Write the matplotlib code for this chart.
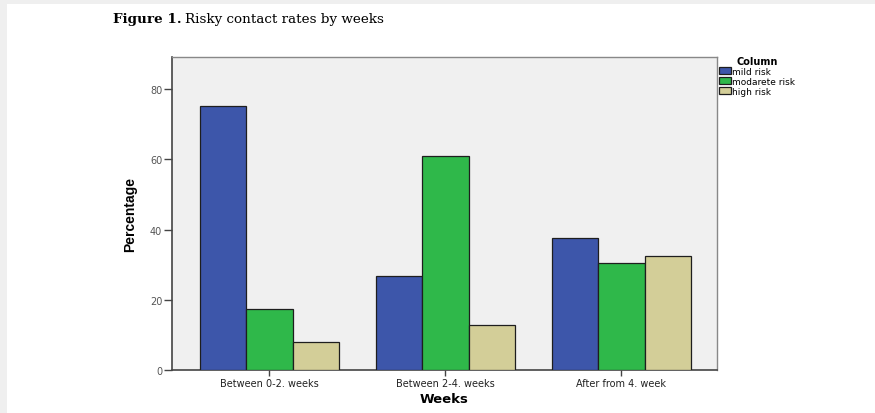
import numpy as np
import matplotlib
matplotlib.use("Agg")
import matplotlib.pyplot as plt
from matplotlib.patches import Rectangle

# Data: percentage of risky contacts per week group
weeks = ["Between 0-2. weeks", "Between 2-4. weeks", "After from 4. week"]
risk_levels = ["mild risk", "modarete risk", "high risk"]
mild_risk = [75.3, 26.9, 37.5]
moderate_risk = [17.4, 61.1, 30.5]
high_risk = [8.1, 12.8, 32.6]
y_ticks = [0, 20, 40, 60, 80]

series = [mild_risk, moderate_risk, high_risk]
colors = ["#3d56aa", "#2fb84a", "#d3ce98"]

W, H = 875, 414
fig = plt.figure(figsize=(W / 100, H / 100), dpi=100, facecolor="#efefef")

# white page area
fig.patches.append(Rectangle((7 / W, 0), 1 - 7 / W, 1 - 5 / H, transform=fig.transFigure,
                             facecolor="white", edgecolor="none", zorder=-10))

ax = fig.add_axes([172 / W, 1 - 371 / H, (717 - 172) / W, (371 - 58) / H])
ax.set_facecolor("#f0f0f0")

x = np.arange(len(weeks))
bw = 0.264
for i, (vals, c, lab) in enumerate(zip(series, colors, risk_levels)):
    ax.bar(x + (i - 1) * bw, vals, width=bw, color=c, edgecolor="#1e1e1e",
           linewidth=0.9, label=lab, zorder=3)

ax.set_xlim(-0.554, 2.543)
ax.set_ylim(0, 89.2)
ax.set_yticks(y_ticks)
ax.set_xticks(x)
ax.set_xticklabels(weeks, fontsize=7, family="DejaVu Sans", color="#222222")
ax.set_yticklabels([str(v) for v in y_ticks], fontsize=7, family="DejaVu Sans",
                   color="#555555")
ax.tick_params(axis="y", length=6, width=1, color="#444444", pad=1)
ax.tick_params(axis="x", length=4, width=1, color="#444444", pad=1.5)

for side in ["left", "bottom"]:
    ax.spines[side].set_color("#444444")
    ax.spines[side].set_linewidth(1.2)
for side in ["top", "right"]:
    ax.spines[side].set_color("#888888")
    ax.spines[side].set_linewidth(1.0)

ax.set_xlabel("Weeks", fontsize=9.5, fontweight="bold", family="DejaVu Sans",
              labelpad=3)
ax.set_ylabel("Percentage", fontsize=10, fontweight="bold",
              family=["Liberation Sans Narrow", "Liberation Sans"], labelpad=9)

leg = ax.legend(loc="upper left", bbox_to_anchor=(719 / W, 1 - 57 / H),
                bbox_transform=fig.transFigure, frameon=False, title="Column",
                prop={"family": "DejaVu Sans", "size": 6.5},
                handlelength=1.3, handleheight=0.8, labelspacing=0.1,
                handletextpad=0.15, borderaxespad=0, borderpad=0)
leg.get_title().set_fontweight("bold")
leg.get_title().set_fontsize(7)
leg.get_title().set_family("DejaVu Sans")
leg._legend_box.align = "center"

fig.text(113 / W, 1 - 20 / H, "Figure 1.", fontsize=9.7, fontweight="bold",
         family="DejaVu Serif", va="center", ha="left")
fig.text(185 / W, 1 - 20 / H, "Risky contact rates by weeks", fontsize=9.7,
         family="DejaVu Serif", va="center", ha="left")

fig.savefig("out.png", dpi=100, facecolor=fig.get_facecolor())
